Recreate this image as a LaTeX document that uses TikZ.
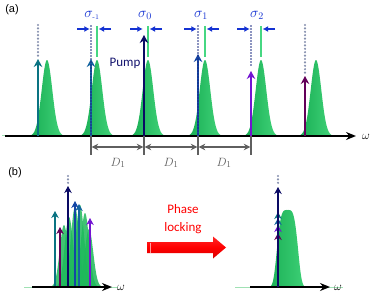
\documentclass[tikz,border=0pt]{standalone}
\usepackage{fontspec}
\newfontfamily\arialf{Liberation Sans}
\newfontfamily\calibrif{Carlito}
\usetikzlibrary{arrows.meta}
\definecolor{gaussl}{RGB}{20,170,80}
\definecolor{gaussr}{RGB}{70,215,125}
\definecolor{gauss}{RGB}{30,185,90}
\definecolor{gline}{RGB}{70,215,130}
\definecolor{paleg}{RGB}{160,225,180}
\definecolor{sigblue}{RGB}{20,50,210}
\definecolor{dotblue}{RGB}{25,40,130}
\definecolor{dotgray}{RGB}{135,145,175}
\definecolor{cteal}{RGB}{10,115,130}
\definecolor{cteal2}{RGB}{20,100,160}
\definecolor{cnavy}{RGB}{10,10,100}
\definecolor{cblue}{RGB}{20,70,165}
\definecolor{cpurple}{RGB}{115,20,210}
\definecolor{cdpurple}{RGB}{100,0,90}
\definecolor{dimgray}{RGB}{95,95,95}
\definecolor{pumpc}{RGB}{20,20,110}
\begin{document}
\begin{tikzpicture}[x=1pt,y=-1pt,
  comb/.style={line width=2.7pt,-{Stealth[length=8pt,width=8.5pt]}},
  combb/.style={line width=2.3pt,-{Stealth[length=7pt,width=7.5pt]}},
  dotsblue/.style={dotblue,line width=1.9pt,dash pattern=on 0pt off 3pt,line cap=round},
  dotsgray/.style={dotgray,line width=2.4pt,dash pattern=on 0pt off 3.4pt,line cap=round},
  gl/.style={gline,line width=1.5pt},
  sig/.style={sigblue,line width=1.4pt,-{Latex[length=5.5pt,width=6pt]}},
  dim/.style={dimgray,line width=1.3pt},
  axis/.style={black,line width=2pt,-{Stealth[length=10pt,width=8pt]}},
  lbl/.style={inner sep=0pt,font=\arialf\fontsize{11}{12}\selectfont},
  siglbl/.style={inner sep=0pt,text=sigblue,font=\fontsize{14}{15}\selectfont},
  dl/.style={inner sep=0pt,text=dimgray,font=\fontsize{13}{14}\selectfont},
  om/.style={inner sep=0pt,font=\fontsize{13}{14}\selectfont},
  gshade/.style={left color=gaussl,right color=gaussr}]
\useasboundingbox (0,0) rectangle (374,299);

% ---------------- (a) ----------------
\node[lbl] (la) at (12,10) {(a)};
\foreach \c in {47,97,148,205,261,316}
  \shade[gshade] plot[domain=\c-20:\c+20,samples=60] (\x,{136-76*exp(-0.5*((\x-\c)/5.3)^2)}) -- cycle;
% green reference lines
\foreach \g in {97,148,205,261} \draw[gl] (\g,26) -- (\g,57);
% gray dotted lines
\draw[dotsgray] (38,25) -- (38,58);
\draw[dotsgray] (305,25) -- (305,74);
% axis
\draw[paleg,line width=1pt] (2,136) -- (8,136);
\coordinate (axa0) at (5,136);
\coordinate (axa1) at (356,136);
\draw[axis] (axa0) -- (axa1);
\node[om] (wa) at (366,137) {$\omega$};
% comb lines
\draw[comb,cteal] (38,136) -- (38,59);
\draw[comb,cteal2] (91,136) -- (91,59);
\draw[comb,cnavy] (144,136) -- (144,35);
\draw[comb,cblue] (198,136) -- (198,54);
\draw[comb,cpurple] (251,136) -- (251,71);
\draw[comb,cdpurple] (305,136) -- (305,76);
% blue dotted lines
\draw[dotsblue] (91,26) -- (91,136);
\draw[dotsblue] (198,26) -- (198,136);
\draw[dotsblue] (251,26) -- (251,66);
% sigma markers
\foreach \a/\g in {91/97,144/148,198/205,251/261}{
  \draw[sig] (\a-14,29) -- (\a-1.2,29);
  \draw[sig] (\g+14,29) -- (\g+1.6,29);
}
\node[siglbl] (s1) at (92,15) {$\sigma_{\mbox{\scriptsize -1}}$};
\node[siglbl] (s0) at (145,15) {$\sigma_0$};
\node[siglbl] (s2) at (201,15) {$\sigma_1$};
\node[siglbl] (s3) at (257,15) {$\sigma_2$};
\node[inner sep=0pt,text=pumpc,font=\calibrif\fontsize{13}{14}\selectfont] (pump) at (125,63) {Pump};
% D1 dimensions
\foreach \t in {91,144,198,251} \draw[dim] (\t,136) -- (\t,155);
\foreach \a/\b in {91/144,144/198,198/251}
  \draw[dim,{Stealth[length=6.5pt,width=6.5pt]}-{Stealth[length=6.5pt,width=6.5pt]}] (\a+0.7,147) -- (\b-0.7,147);
\node[dl] (d1) at (118,163) {$D_1$};
\node[dl] (d2) at (171,163) {$D_1$};
\node[dl] (d3) at (224,163) {$D_1$};

% ---------------- (b) ----------------
\node[lbl] (lb) at (15,173) {(b)};
\foreach \c/\h in {64/62,69/70,75/80,80/82,85/74,89/58}
  \fill[gauss,opacity=0.85] plot[domain=\c-14:\c+14,samples=50] (\x,{287-\h*exp(-0.5*((\x-\c)/4.2)^2)}) -- cycle;
\draw[combb,cteal] (55,287) -- (55,211);
\draw[combb,cdpurple] (60,287) -- (60,227);
\draw[combb,cblue] (75,287) -- (75,201);
\draw[combb,cteal2] (79,287) -- (79,204);
\draw[combb,cpurple] (90,287) -- (90,218);
\draw[combb,cnavy] (68,287) -- (68,186);
\draw[dotsgray] (68,176) -- (68,183);
\draw[paleg,line width=1pt] (24,287) -- (118,287);
\coordinate (axb0) at (32,287);
\coordinate (axb1) at (112,287);
\draw[axis] (axb0) -- (axb1);
\node[om] (wb) at (121,288) {$\omega$};

% phase locking arrow
\shade[top color=red!85!white,bottom color=red!85!black,middle color=red] (147,242) -- (213,242) -- (213,236.5) -- (226,247.5) -- (213,258.5) -- (213,253) -- (147,253) -- cycle;
\draw[white,opacity=0.6,line width=0.8pt] (150,242.5) -- (150,252.5);
\node[inner sep=0pt,text=red,align=center,font=\calibrif\fontsize{13}{17.5}\selectfont] (pl) at (183,219) {Phase\\locking};

% right locked spectrum
\shade[gshade] plot[domain=262:313,samples=80] (\x,{287-77*exp(-((\x-287.5)/11.5)^4)}) -- cycle;
\draw[paleg,line width=1pt] (235,287) -- (343,287);
\coordinate (axc0) at (250,287);
\coordinate (axc1) at (330,287);
\draw[axis] (axc0) -- (axc1);
\node[om] (wc) at (338,288) {$\omega$};
\draw[combb,cdpurple] (278,287) -- (278,233);
\draw[combb,cpurple] (278,287) -- (278,225);
\draw[combb,cteal2] (278,287) -- (278,218);
\draw[combb,cteal] (278,287) -- (278,212);
\draw[combb,cnavy] (278,287) -- (278,187);
\draw[dotsgray] (278,176) -- (278,183);
\end{tikzpicture}
\end{document}
